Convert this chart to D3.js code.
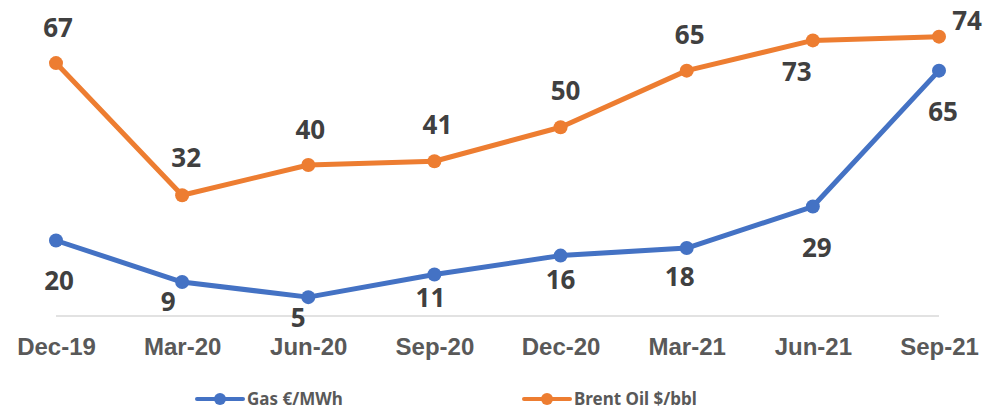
<!DOCTYPE html>
<html>
<head>
<meta charset="utf-8">
<script src="https://cdn.jsdelivr.net/npm/d3@7"></script>
<style>
  body { margin: 0; background: #fff; }
  svg { display: block; }
</style>
</head>
<body>
<div id="chart"></div>
<script>
// quarter labels along the bottom
var categories = ["Dec-19", "Mar-20", "Jun-20", "Sep-20", "Dec-20", "Mar-21", "Jun-21", "Sep-21"];

// series values
var gasValues = [20, 9, 5, 11, 16, 18, 29, 65];
var oilValues = [67, 32, 40, 41, 50, 65, 73, 74];

var seriesNames = ["Gas €/MWh", "Brent Oil $/bbl"];

// label nudges (dx, baseline dy) so the numbers sit like the original
var gasLabelOffsets = [[3, 49], [-14, 29], [-10, 30], [-4, 33], [0, 33], [-7, 38], [4, 50], [4, 50]];
var oilLabelOffsets = [[2, -26], [4, -28], [2, -26], [3, -27], [5, -27], [3, -27], [-16, 41], [28, -7]];

var width = 985, height = 409;
var blue = "#4472C4", orange = "#ED7D31";

var svg = d3.select("#chart").append("svg")
    .attr("width", width)
    .attr("height", height);

var x = d3.scalePoint()
    .domain(categories)
    .range([56, 939]);

var y = d3.scaleLinear()
    .domain([0, 80])
    .range([316, 14]);

// category axis: just the baseline and labels
svg.append("line")
    .attr("x1", x(categories[0]))
    .attr("x2", x(categories[categories.length - 1]))
    .attr("y1", y(0))
    .attr("y2", y(0))
    .attr("stroke", "#d9d9d9")
    .attr("stroke-width", 1.5);

var xAxis = svg.append("g")
    .attr("transform", `translate(0,${y(0)})`)
    .call(d3.axisBottom(x).tickSize(0).tickPadding(39));
xAxis.select(".domain").remove();
xAxis.selectAll("text")
    .attr("font-family", "Liberation Sans, Arial, sans-serif")
    .attr("font-weight", "bold")
    .attr("font-size", 24)
    .attr("fill", "#595959")
    .attr("dy", 0);

var line = d3.line()
    .x(d => x(d.cat))
    .y(d => y(d.v));

function drawSeries(values, color, offsets) {
  var pts = values.map((v, i) => ({cat: categories[i], v: v, off: offsets[i]}));
  var g = svg.append("g");
  g.append("path")
      .datum(pts)
      .attr("d", line)
      .attr("fill", "none")
      .attr("stroke", color)
      .attr("stroke-width", 5)
      .attr("stroke-linejoin", "round");
  g.selectAll("circle")
    .data(pts)
    .join("circle")
      .attr("cx", d => x(d.cat))
      .attr("cy", d => y(d.v))
      .attr("r", 7)
      .attr("fill", color);
  g.selectAll("text")
    .data(pts)
    .join("text")
      .attr("x", d => x(d.cat) + d.off[0])
      .attr("y", d => y(d.v) + d.off[1])
      .attr("text-anchor", "middle")
      .attr("font-family", "Noto Sans, sans-serif")
      .attr("font-weight", "bold")
      .attr("font-size", 26)
      .attr("fill", "#404040")
      .text(d => d.v);
}

drawSeries(oilValues, orange, oilLabelOffsets);
drawSeries(gasValues, blue, gasLabelOffsets);

// legend
var legend = svg.append("g");
var legendX = [220, 547];
[blue, orange].forEach(function(c, i) {
  var lg = legend.append("g").attr("transform", `translate(${legendX[i]},399)`);
  lg.append("line")
      .attr("x1", -23).attr("x2", 23)
      .attr("stroke", c)
      .attr("stroke-width", 4)
      .attr("stroke-linecap", "round");
  lg.append("circle").attr("r", 6).attr("fill", c);
  lg.append("text")
      .attr("x", 27)
      .attr("y", 6)
      .attr("font-family", "Noto Sans, sans-serif")
      .attr("font-weight", "bold")
      .attr("font-size", 17)
      .attr("fill", "#595959")
      .text(seriesNames[i]);
});
</script>
</body>
</html>
